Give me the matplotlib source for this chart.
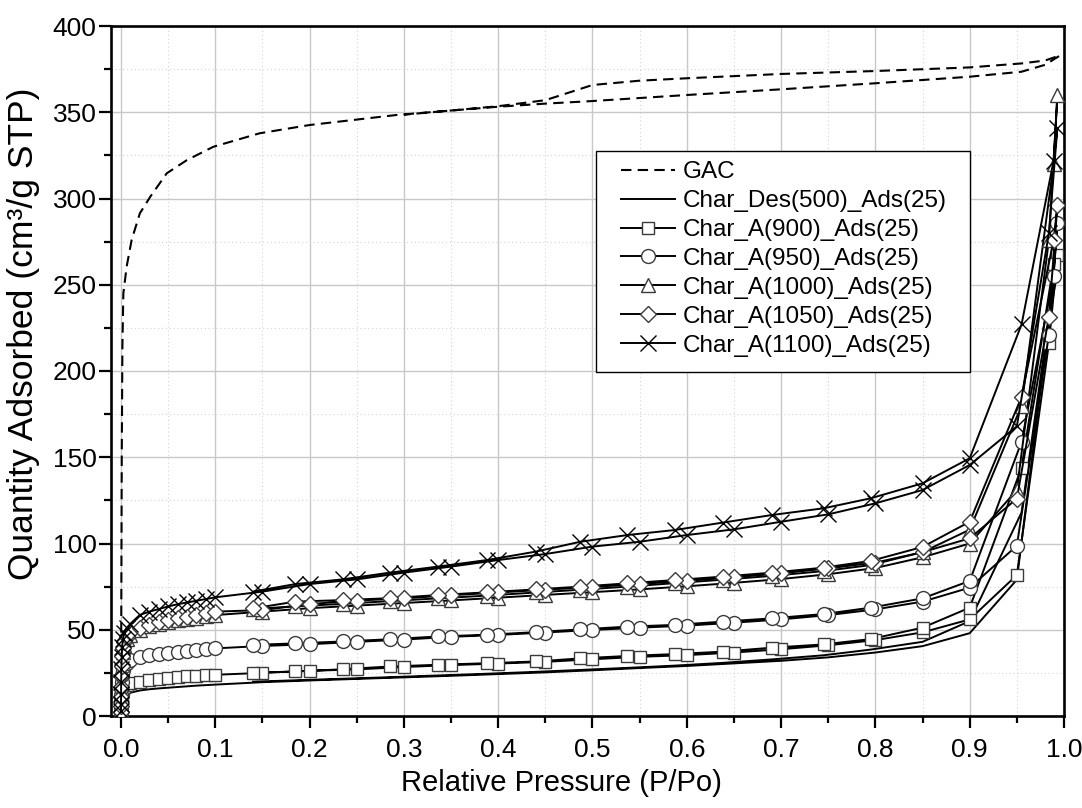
import matplotlib
matplotlib.use('Agg')
import matplotlib.pyplot as plt
from matplotlib.ticker import MultipleLocator, FormatStrFormatter
from matplotlib.patches import Rectangle

plt.rcParams['font.family'] = ['Liberation Sans', 'DejaVu Sans']

# ---------------- data ----------------
# GAC (dashed, no markers)
GAC_P_ADS = [0.00005, 0.0003, 0.0008, 0.0015, 0.0025, 0.006, 0.0113, 0.02, 0.031, 0.0485, 0.07, 0.098,
             0.147, 0.2, 0.292, 0.35, 0.40, 0.45, 0.50, 0.60, 0.70, 0.80, 0.90, 0.955, 0.98, 0.996]
GAC_Q_ADS = [0, 60, 150, 215, 245, 260.5, 276, 291.4, 301, 314.6, 322.3, 330,
             337.8, 342.6, 348.4, 351, 353.2, 355, 356.5, 360, 363.3, 366.8, 370.6, 373.5, 377.5, 383]
GAC_P_DES = [0.996, 0.98, 0.955, 0.90, 0.80, 0.70, 0.60, 0.55, 0.50, 0.45, 0.40, 0.35, 0.30]
GAC_Q_DES = [383, 380, 378.3, 376, 373.9, 372.2, 369.7, 368.3, 365.8, 357, 353.5, 351, 348.6]

# common relative pressures of the char isotherms
P_ADS = [0.00002, 0.00005, 0.0001, 0.0002, 0.0004, 0.0007, 0.0012, 0.002, 0.0035, 0.006, 0.01,
         0.02, 0.03, 0.04, 0.05, 0.06, 0.07, 0.08, 0.09, 0.10,
         0.15, 0.20, 0.25, 0.30, 0.35, 0.40, 0.45, 0.50, 0.55, 0.60, 0.65, 0.70, 0.75, 0.80,
         0.85, 0.90, 0.95, 0.984, 0.993]
P_DES = [0.989, 0.955, 0.90, 0.85, 0.795, 0.745, 0.69, 0.638, 0.587, 0.537, 0.487, 0.44,
         0.388, 0.336, 0.285, 0.235, 0.185, 0.14]

# Char_Des(500)_Ads(25)
DES500_ADS = [0.5, 1.5, 3, 5, 7, 8.5, 10, 11, 12, 12.8, 13.5,
              14.8, 15.5, 16.0, 16.4, 16.8, 17.2, 17.6, 17.9, 18.2,
              19.6, 20.6, 21.5, 22.4, 23.3, 24.3, 25.3, 26.5, 27.8, 29.0, 30.5, 32.0, 34.0, 36.8,
              40.5, 48.0, 79, 228, 258]
DES500_DES = [250, 118, 55, 43, 38.5, 35.2, 32.8, 30.8, 29.2, 27.9, 26.7, 25.6,
              24.5, 23.5, 22.5, 21.6, 20.7, 19.9]

# Char_A(900)_Ads(25)
A900_ADS = [1.5, 3, 5, 7.5, 10, 12, 14, 15.5, 17, 18.2, 19.2,
            20.0, 20.9, 21.6, 22.1, 22.5, 22.9, 23.3, 23.6, 23.9,
            25.0, 26.2, 27.0, 28.4, 29.5, 30.4, 31.4, 32.9, 34.3, 35.3, 36.8, 38.7, 41.0, 44.0,
            48.5, 56.0, 81.7, 216, 267]
A900_DES = [262, 144, 62.8, 51.2, 44.6, 41.5, 39.6, 37.3, 35.9, 34.8, 33.4, 31.6,
            30.6, 29.7, 28.7, 27.1, 25.8, 25.1]

# Char_A(950)_Ads(25)
A950_ADS = [2, 4.5, 8, 12, 16, 20, 23.5, 26.5, 29, 31, 32.5,
            34.4, 35.4, 35.9, 36.3, 37.3, 37.9, 38.3, 39.0, 39.2,
            40.6, 41.6, 43.0, 44.3, 45.9, 47.0, 48.4, 49.9, 51.2, 52.4, 54.1, 56.0, 58.5, 61.8,
            66.3, 74.4, 98.7, 221, 286]
A950_DES = [255, 159, 78.3, 68.2, 62.8, 59.1, 56.6, 54.7, 52.8, 51.8, 50.2, 48.6,
            47.1, 46.1, 44.5, 43.2, 42.1, 41.2]

# Char_A(1000)_Ads(25)
A1000_ADS = [2, 5, 9, 14, 20, 26, 32, 37, 41, 44.5, 47,
             50, 52, 53.5, 54.5, 55.5, 56.3, 57.0, 57.7, 58.5,
             60.5, 62.5, 64.0, 65.5, 67.0, 68.6, 70.2, 71.8, 73.4, 75.2, 77.2, 79.4, 82.2, 85.8,
             92, 100, 131, 276, 360]
A1000_DES = [320, 180, 108, 95, 87.5, 84, 81.2, 79.0, 77.0, 75.0, 73.2, 71.6,
             69.8, 68.2, 66.6, 65.0, 63.6, 62.0]

# Char_A(1050)_Ads(25)
A1050_ADS = [2.5, 6, 11, 17, 23, 29, 35, 39.5, 43, 46, 48.5,
             50.8, 52.8, 54.7, 55.7, 56.6, 57.6, 58.6, 59.5, 60.5,
             61.4, 64.9, 66.9, 68.2, 70.0, 71.6, 73.2, 74.8, 76.5, 78.4, 80.4, 82.7, 85.6, 88.9,
             95, 103, 126, 231.5, 296]
A1050_DES = [276, 185, 112.6, 98, 89.9, 86.0, 83.1, 80.8, 78.8, 76.9, 75.0, 73.4,
             71.7, 70.1, 68.3, 67.2, 66.3, 62.4]

# Char_A(1100)_Ads(25)
A1100_ADS = [3, 7, 13, 20, 27, 34, 40, 44.5, 48, 51, 53.5,
             58.6, 60.5, 62, 63.5, 64.8, 65.8, 66.8, 67.8, 68.8,
             72.1, 76.5, 79.2, 83.1, 86.6, 90.4, 93.9, 98.2, 101, 104.9, 108.2, 112.6, 116.9, 123.3,
             131, 145.5, 168, 280, 341]
A1100_DES = [322, 227, 149.4, 134.9, 126.2, 120.4, 116.5, 112.1, 107.8, 104.9, 101, 95.3,
             90.4, 86.6, 83.1, 79.2, 76.5, 72.1]

LABELS = ['GAC', 'Char_Des(500)_Ads(25)', 'Char_A(900)_Ads(25)', 'Char_A(950)_Ads(25)',
          'Char_A(1000)_Ads(25)', 'Char_A(1050)_Ads(25)', 'Char_A(1100)_Ads(25)']

# ---------------- figure ----------------
fig = plt.figure(figsize=(10.82, 8.08), dpi=100)
ax = fig.add_axes([111 / 1082, 1 - 716 / 808, (1064 - 111) / 1082, (716 - 26) / 808])

LW = 1.4
EC = '#3a3a3a'

ax.plot(GAC_P_ADS + GAC_P_DES, GAC_Q_ADS + GAC_Q_DES, color='black', lw=1.5,
        linestyle=(0, (5, 3)), label=LABELS[0], zorder=3)
ax.plot(P_ADS + P_DES, DES500_ADS + DES500_DES, color='black', lw=LW, label=LABELS[1], zorder=3)

series = [
    (A900_ADS, A900_DES, 's', 9.0, LABELS[2]),
    (A950_ADS, A950_DES, 'o', 10.0, LABELS[3]),
    (A1000_ADS, A1000_DES, '^', 10.0, LABELS[4]),
    (A1050_ADS, A1050_DES, 'D', 8.0, LABELS[5]),
    (A1100_ADS, A1100_DES, 'x', 11.0, LABELS[6]),
]
for i, (qa, qd, mk, ms, lab) in enumerate(series):
    ax.plot(P_ADS + P_DES, qa + qd, color='black', lw=LW, marker=mk, markersize=ms,
            markerfacecolor='white', markeredgecolor=EC if mk != 'x' else 'black',
            markeredgewidth=1.0, label=lab, zorder=4 + i)

ax.set_xlim(-0.0106, 1.0)
ax.set_ylim(0, 400)
ax.xaxis.set_major_locator(MultipleLocator(0.1))
ax.xaxis.set_minor_locator(MultipleLocator(0.05))
ax.yaxis.set_major_locator(MultipleLocator(50))
ax.yaxis.set_minor_locator(MultipleLocator(25))
ax.xaxis.set_major_formatter(FormatStrFormatter('%.1f'))

ax.grid(which='major', color='#c8c8c8', lw=1.0, zorder=0)
ax.grid(which='minor', color='#d4d4d4', lw=0.8, linestyle=(0, (1, 2.5)), zorder=0)
ax.set_axisbelow(True)

for s in ax.spines.values():
    s.set_linewidth(1.9)
ax.tick_params(which='major', direction='out', length=8.5, width=1.6, labelsize=19)
ax.tick_params(which='minor', direction='out', length=5, width=1.6)
ax.tick_params(axis='x', which='major', pad=7)
ax.tick_params(axis='y', which='major', pad=2)

ax.set_xlabel('Relative Pressure (P/Po)', fontsize=21)
ax.xaxis.set_label_coords(0.473, -0.077)
ax.set_ylabel('Quantity Adsorbed (cm³/g STP)', fontsize=25.5)
ax.yaxis.set_label_coords(-0.074, 0.554)

# legend: frame drawn as a rectangle, entries placed inside it
ax.add_patch(Rectangle((0.5089, 0.4986), 0.3924, 0.3203, transform=ax.transAxes,
                       facecolor='white', edgecolor='black', lw=1.0, zorder=20))
leg = ax.legend(loc='upper left', bbox_to_anchor=(0.5352, 0.804), fontsize=17.5,
                frameon=False, handlelength=2.22, handletextpad=0.33, labelspacing=0.284,
                borderpad=0, borderaxespad=0, numpoints=1)
leg.set_zorder(21)

fig.savefig('out.png', dpi=100)
